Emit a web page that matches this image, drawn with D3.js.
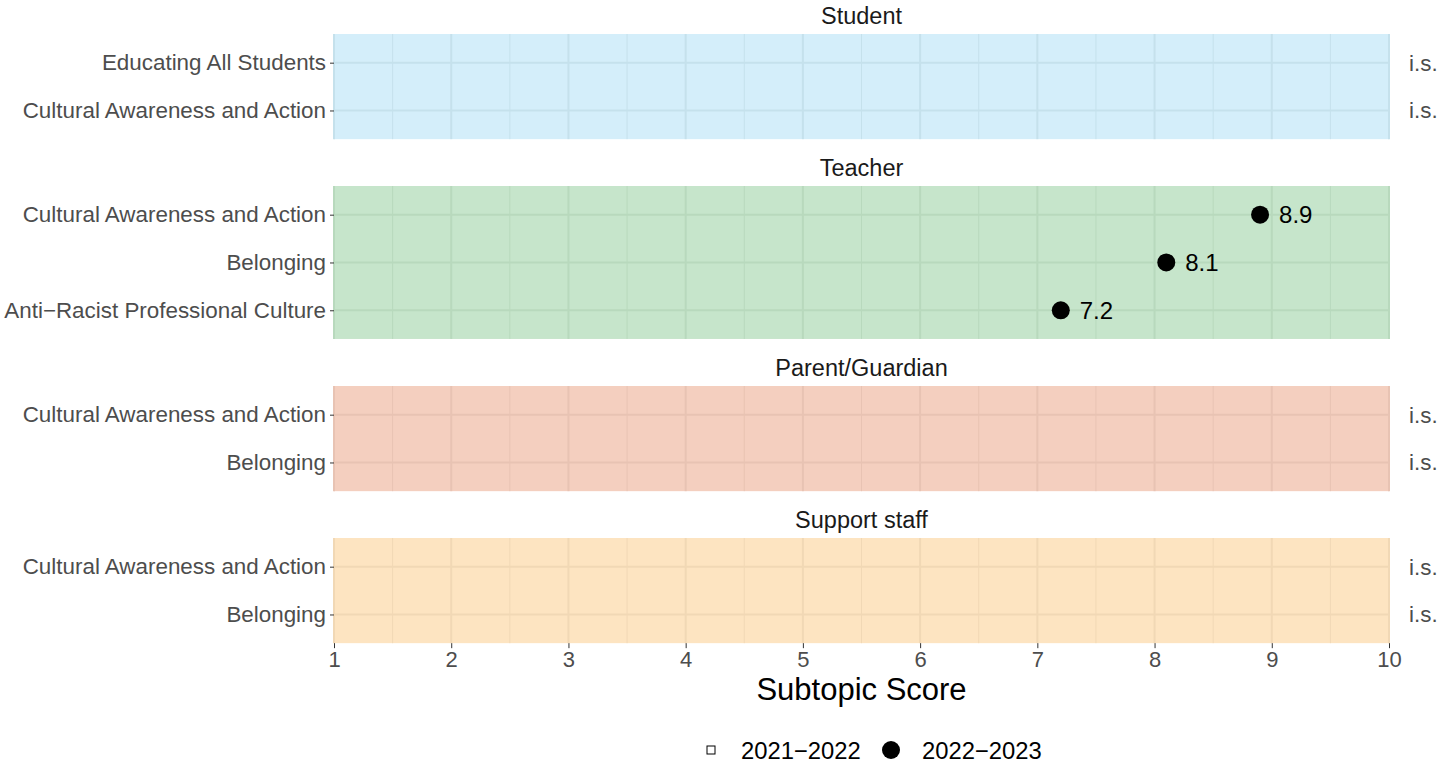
<!DOCTYPE html>
<html lang="en">
<head>
<meta charset="utf-8">
<title>Subtopic Score</title>
<script src="https://d3js.org/d3.v7.min.js"></script>
<style>
  body { margin: 0; background: #fff; }
  svg { font-family: "Liberation Sans", Arial, sans-serif; }
</style>
</head>
<body>
<script>
// facet groups, top to bottom
var groups = ["Student", "Teacher", "Parent/Guardian", "Support staff"];
var subtopics = {
  "Student": ["Educating All Students", "Cultural Awareness and Action"],
  "Teacher": ["Cultural Awareness and Action", "Belonging", "Anti\u2212Racist Professional Culture"],
  "Parent/Guardian": ["Cultural Awareness and Action", "Belonging"],
  "Support staff": ["Cultural Awareness and Action", "Belonging"]
};
var fills = ["#d4eefa", "#c6e5cb", "#f4cfbf", "#fde4c1"];
var grids = ["#c5e1ec", "#b8d9bd", "#e8c3b3", "#f1d8b5"];

// scores 2022-2023 (no 2021-2022 values shown)
var scores2223 = [
  { group: "Teacher", sub: "Cultural Awareness and Action", v: 8.9 },
  { group: "Teacher", sub: "Belonging", v: 8.1 },
  { group: "Teacher", sub: "Anti\u2212Racist Professional Culture", v: 7.2 }
];
// insufficient sample rows
var insufficient = {
  "Student": ["Educating All Students", "Cultural Awareness and Action"],
  "Parent/Guardian": ["Cultural Awareness and Action", "Belonging"],
  "Support staff": ["Cultural Awareness and Action", "Belonging"]
};
var xTicks = [1, 2, 3, 4, 5, 6, 7, 8, 9, 10];
var legendItems = ["2021\u22122022", "2022\u22122023"];

var width = 1454, height = 763;
var svg = d3.select("body").append("svg")
  .attr("width", width).attr("height", height);

var x = d3.scaleLinear().domain([1, 10]).range([334, 1389]);
var rowStep = 47.8;
var panelTops = [34, 186, 386, 538];

groups.forEach(function(gname, gi) {
  var rows = subtopics[gname];
  var h = rowStep * (rows.length - 1 + 1.2);
  var top = panelTops[gi];
  var y = d3.scalePoint().domain(rows).range([top, top + h]).padding(0.6);
  var g = svg.append("g");

  g.append("rect")
    .attr("x", x(1)).attr("y", top)
    .attr("width", x(10) - x(1)).attr("height", h)
    .attr("fill", fills[gi]);

  // minor grid
  g.selectAll(".minor").data(d3.range(1.5, 10, 1)).enter().append("line")
    .attr("x1", d => x(d)).attr("x2", d => x(d))
    .attr("y1", top).attr("y2", top + h)
    .attr("stroke", grids[gi]).attr("stroke-width", 1);
  // major grid
  g.selectAll(".major").data(xTicks).enter().append("line")
    .attr("x1", d => x(d)).attr("x2", d => x(d))
    .attr("y1", top).attr("y2", top + h)
    .attr("stroke", grids[gi]).attr("stroke-width", 2);
  g.selectAll(".hgrid").data(rows).enter().append("line")
    .attr("x1", x(1)).attr("x2", x(10))
    .attr("y1", d => y(d)).attr("y2", d => y(d))
    .attr("stroke", grids[gi]).attr("stroke-width", 2);

  // y axis
  var yAxis = g.append("g").attr("transform", "translate(" + x(1) + ",0)")
    .call(d3.axisLeft(y).tickSize(4).tickPadding(4));
  yAxis.select(".domain").remove();
  yAxis.selectAll("line").attr("stroke", "#333");
  yAxis.selectAll("text")
    .attr("font-size", 22.4).attr("fill", "#4d4d4d")
    .style("font-family", "Liberation Sans, Arial, sans-serif");

  // strip title
  g.append("text")
    .attr("x", (x(1) + x(10)) / 2).attr("y", top - 18).attr("dy", "0.36em")
    .attr("text-anchor", "middle").attr("font-size", 23.5).attr("fill", "#1a1a1a")
    .text(gname);

  // i.s. labels
  (insufficient[gname] || []).forEach(function(s) {
    g.append("text")
      .attr("x", 1409).attr("y", y(s)).attr("dy", "0.35em")
      .attr("font-size", 22.4).attr("fill", "#4d4d4d")
      .text("i.s.");
  });

  // points
  var pts = scores2223.filter(d => d.group === gname);
  g.selectAll("circle").data(pts).enter().append("circle")
    .attr("cx", d => x(d.v)).attr("cy", d => y(d.sub))
    .attr("r", 9).attr("fill", "#000");
  g.selectAll(".lab").data(pts).enter().append("text")
    .attr("x", d => x(d.v) + 19).attr("y", d => y(d.sub)).attr("dy", "0.36em")
    .attr("font-size", 24).attr("fill", "#000")
    .text(d => d.v.toFixed(1));
});

// x axis at bottom of last panel
var lastBottom = panelTops[3] + rowStep * 2.2;
var xAxis = svg.append("g").attr("transform", "translate(0," + lastBottom + ")")
  .call(d3.axisBottom(x).tickValues(xTicks).tickSize(5).tickPadding(3).tickFormat(d3.format("d")));
xAxis.select(".domain").remove();
xAxis.selectAll("line").attr("stroke", "#333");
xAxis.selectAll("text")
  .attr("font-size", 22).attr("fill", "#4d4d4d")
  .style("font-family", "Liberation Sans, Arial, sans-serif");

svg.append("text")
  .attr("x", (x(1) + x(10)) / 2).attr("y", 700)
  .attr("text-anchor", "middle").attr("font-size", 31).attr("fill", "#000")
  .text("Subtopic Score");

// legend
var leg = svg.append("g");
leg.append("rect").attr("x", 707).attr("y", 746).attr("width", 8).attr("height", 8)
  .attr("fill", "none").attr("stroke", "#000").attr("stroke-width", 1);
leg.append("text").attr("x", 741).attr("y", 750).attr("dy", "0.36em")
  .attr("font-size", 23.8).text(legendItems[0]);
leg.append("circle").attr("cx", 891).attr("cy", 750).attr("r", 9).attr("fill", "#000");
leg.append("text").attr("x", 922).attr("y", 750).attr("dy", "0.36em")
  .attr("font-size", 23.8).text(legendItems[1]);
</script>
</body>
</html>
